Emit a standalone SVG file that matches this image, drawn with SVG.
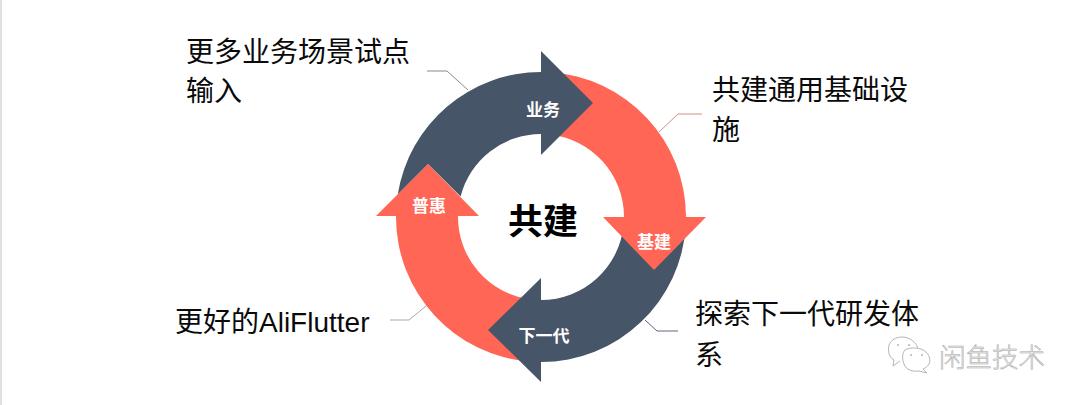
<svg xmlns="http://www.w3.org/2000/svg" width="1080" height="405" viewBox="0 0 1080 405">
<style>
.t{font-family:"Liberation Sans","Noto Sans CJK SC",sans-serif;font-size:28px;fill:#0a0a0a}
.l{font-family:"Noto Sans CJK SC",sans-serif;font-size:17px;font-weight:700;fill:#fff;text-anchor:middle}
.c{font-family:"Noto Sans CJK SC",sans-serif;font-size:35px;font-weight:700;fill:#000;text-anchor:middle}
.o{fill:#ff6655}
.b{fill:#475569}
.k{fill:none;stroke-width:1}
.w{font-family:"Noto Sans CJK SC",sans-serif;font-size:26.5px;font-weight:300;fill:#ececec;stroke:#a5a5a5;stroke-width:.5}
.i{fill:#fff;stroke:#b5b5b5;stroke-width:1}
.d{fill:#b5b5b5}
</style>
<rect width="1080" height="405" fill="#fff"/>
<rect x="0" y="0" width="2" height="405" fill="#e0e0e0"/>
<g id="connectors">
<path class="k" stroke="#8a8a8a" d="M427 71H447L468 90"/>
<path class="k" stroke="#d98a84" d="M702 114H678L659 132"/>
<path class="k" stroke="#a8a8a8" d="M390 320H409L426 306"/>
<path class="k" stroke="#5c6a7d" d="M645 320L657 331H678"/>
</g>
<g id="arrow-puhui">
<path class="o" d="M530 361.6A145 145 0 0 1 396 216H376L428 164L479 216H458A83 83 0 0 0 530 299.3Z"/>
<text class="l" x="429" y="212">普惠</text>
</g>
<g id="arrow-xiayidai">
<path class="b" d="M685.8 225A145 145 0 0 1 541 362V382L488 330L541 278V300A83 83 0 0 0 623.6 225Z"/>
<text class="l" x="544" y="342">下一代</text>
</g>
<g id="arrow-jijian">
<path class="o" d="M550 72.3A145 145 0 0 1 686 217H706L654 270L603 217H624A83 83 0 0 0 550 134.5Z"/>
<text class="l" x="654" y="248">基建</text>
</g>
<g id="arrow-yewu">
<path class="b" d="M397.8 194.2A145 145 0 0 1 541 72V51L593 103L541 155V134A83 83 0 0 0 460.6 196.6L428 164Z"/>
<text class="l" x="543" y="116">业务</text>
</g>
<g id="center"><text class="c" x="543" y="234">共建</text></g>
<g id="label-tl"><text class="t" x="186" y="62">更多业务场景试点</text><text class="t" x="186" y="101">输入</text></g>
<g id="label-tr"><text class="t" x="712" y="100">共建通用基础设</text><text class="t" x="712" y="140">施</text></g>
<g id="label-bl"><text class="t" x="175" y="332">更好的AliFlutter</text></g>
<g id="label-br"><text class="t" x="695" y="324">探索下一代研发体</text><text class="t" x="695" y="365">系</text></g>
<g id="watermark">
<path class="i" d="M900 361L893 366L894 360C888 357 888 349 889 345C891 340 896 337 902 337C910 337 917 343 918 349"/>
<circle class="d" cx="898" cy="345" r="1"/><circle class="d" cx="909" cy="345" r="1"/>
<path class="i" d="M905 350C910 347 921 347 926 352C932 358 931 366 923 369L927 373L919 371C913 372 906 370 904 364C902 359 902 353 905 350Z"/>
<circle class="d" cx="911" cy="355" r="1"/><circle class="d" cx="922" cy="355" r="1"/>
<text class="w" x="939" y="367">闲鱼技术</text>
</g>
</svg>
